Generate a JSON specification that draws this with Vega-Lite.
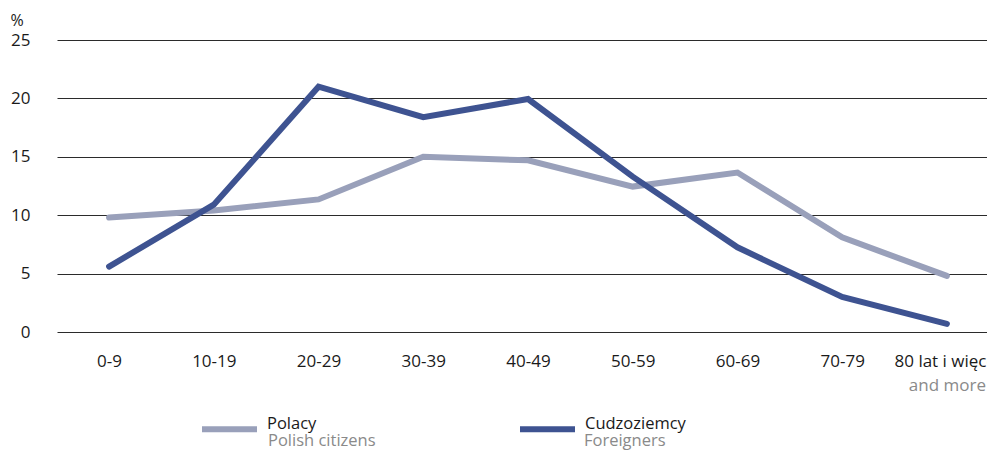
{
  "$schema": "https://vega.github.io/schema/vega-lite/v6.json",
  "width": 930,
  "height": 292,
  "autosize": {"type": "none"},
  "padding": {"left": 57, "top": 40, "right": 0, "bottom": 119},
  "background": "white",
  "config": {
    "font": "Open Sans",
    "view": {"stroke": null},
    "axis": {"labelFont": "Open Sans", "labelFontSize": 17, "labelColor": "#1a1a1a", "domain": false, "ticks": false},
    "legend": {"padding": 0, "labelFont": "Open Sans", "labelFontSize": 16.5}
  },
  "data": {
    "values": [
      {"age": "0-9", "series": "Polacy", "en": "Polish citizens", "value": 9.8},
      {"age": "10-19", "series": "Polacy", "en": "Polish citizens", "value": 10.4},
      {"age": "20-29", "series": "Polacy", "en": "Polish citizens", "value": 11.35},
      {"age": "30-39", "series": "Polacy", "en": "Polish citizens", "value": 15.0},
      {"age": "40-49", "series": "Polacy", "en": "Polish citizens", "value": 14.7},
      {"age": "50-59", "series": "Polacy", "en": "Polish citizens", "value": 12.45},
      {"age": "60-69", "series": "Polacy", "en": "Polish citizens", "value": 13.65},
      {"age": "70-79", "series": "Polacy", "en": "Polish citizens", "value": 8.1},
      {"age": "80 lat i więcej", "series": "Polacy", "en": "Polish citizens", "value": 4.8},
      {"age": "0-9", "series": "Cudzoziemcy", "en": "Foreigners", "value": 5.6},
      {"age": "10-19", "series": "Cudzoziemcy", "en": "Foreigners", "value": 10.9},
      {"age": "20-29", "series": "Cudzoziemcy", "en": "Foreigners", "value": 21.0},
      {"age": "30-39", "series": "Cudzoziemcy", "en": "Foreigners", "value": 18.4},
      {"age": "40-49", "series": "Cudzoziemcy", "en": "Foreigners", "value": 19.95},
      {"age": "50-59", "series": "Cudzoziemcy", "en": "Foreigners", "value": 13.3},
      {"age": "60-69", "series": "Cudzoziemcy", "en": "Foreigners", "value": 7.25},
      {"age": "70-79", "series": "Cudzoziemcy", "en": "Foreigners", "value": 3.0},
      {"age": "80 lat i więcej", "series": "Cudzoziemcy", "en": "Foreigners", "value": 0.7}
    ]
  },
  "layer": [
    {
      "transform": [{"filter": "datum.series === 'Polacy'"}],
      "mark": {"type": "line", "strokeWidth": 6, "strokeCap": "round", "strokeJoin": "miter"},
      "encoding": {
        "x": {"field": "age", "type": "ordinal", "sort": null,
              "scale": {"type": "point", "padding": 0.44, "align": 0.565},
              "axis": {"orient": "bottom", "title": null, "labelAngle": 0, "labelPadding": 21, "grid": false}},
        "y": {"field": "value", "type": "quantitative",
              "scale": {"domain": [0, 25], "nice": false},
              "axis": {"values": [0, 5, 10, 15, 20, 25], "grid": true, "gridColor": "#2b2b2b", "gridWidth": 1, "gridOpacity": 1,
                       "labelPadding": 27, "title": "%", "titleAngle": 0, "titleX": -47, "titleY": -20,
                       "titleAlign": "left", "titleBaseline": "middle", "titleFontWeight": "normal", "titleFontSize": 16, "titleFont": "Open Sans", "titleColor": "#1a1a1a"}},
        "color": {"field": "series", "type": "nominal",
                  "scale": {"domain": ["Polacy", "Cudzoziemcy"], "range": ["#99a0ba", "#3e5391"]},
                  "legend": {"orient": "none", "legendX": 142, "legendY": 358.5, "direction": "horizontal", "title": null,
                             "symbolType": "stroke", "symbolSize": 3025, "symbolStrokeWidth": 6,
                             "labelOffset": 7, "columnPadding": 191, "labelBaseline": "alphabetic", "labelColor": "#1a1a1a"}}
      }
    },
    {
      "transform": [{"filter": "datum.series === 'Cudzoziemcy'"}],
      "mark": {"type": "line", "strokeWidth": 6, "strokeCap": "round", "strokeJoin": "miter"},
      "encoding": {
        "x": {"field": "age", "type": "ordinal", "sort": null, "axis": null},
        "y": {"field": "value", "type": "quantitative"},
        "color": {"field": "series", "type": "nominal"}
      }
    },
    {
      "mark": {"type": "point", "opacity": 0},
      "encoding": {
        "x": {"field": "age", "type": "ordinal", "sort": null,
              "axis": {"orient": "bottom", "title": null, "labelAngle": 0, "labelPadding": 45, "grid": false,
                       "labelColor": "#8a8a8a",
                       "labelExpr": "datum.value === '80 lat i więcej' ? 'and more' : ''"}},
        "y": {"field": "value", "type": "quantitative"},
        "shape": {"field": "en", "type": "nominal",
                  "scale": {"domain": ["Polish citizens", "Foreigners"], "range": ["circle", "circle"]},
                  "legend": {"orient": "none", "legendX": 146, "legendY": 373.5, "direction": "horizontal", "title": null,
                             "symbolSize": 3025, "symbolOpacity": 0, "symbolStrokeWidth": 0,
                             "labelOffset": 10, "columnPadding": 143, "labelBaseline": "middle", "labelColor": "#8a8a8a"}}
      }
    }
  ],
  "resolve": {"axis": {"x": "independent"}}
}
